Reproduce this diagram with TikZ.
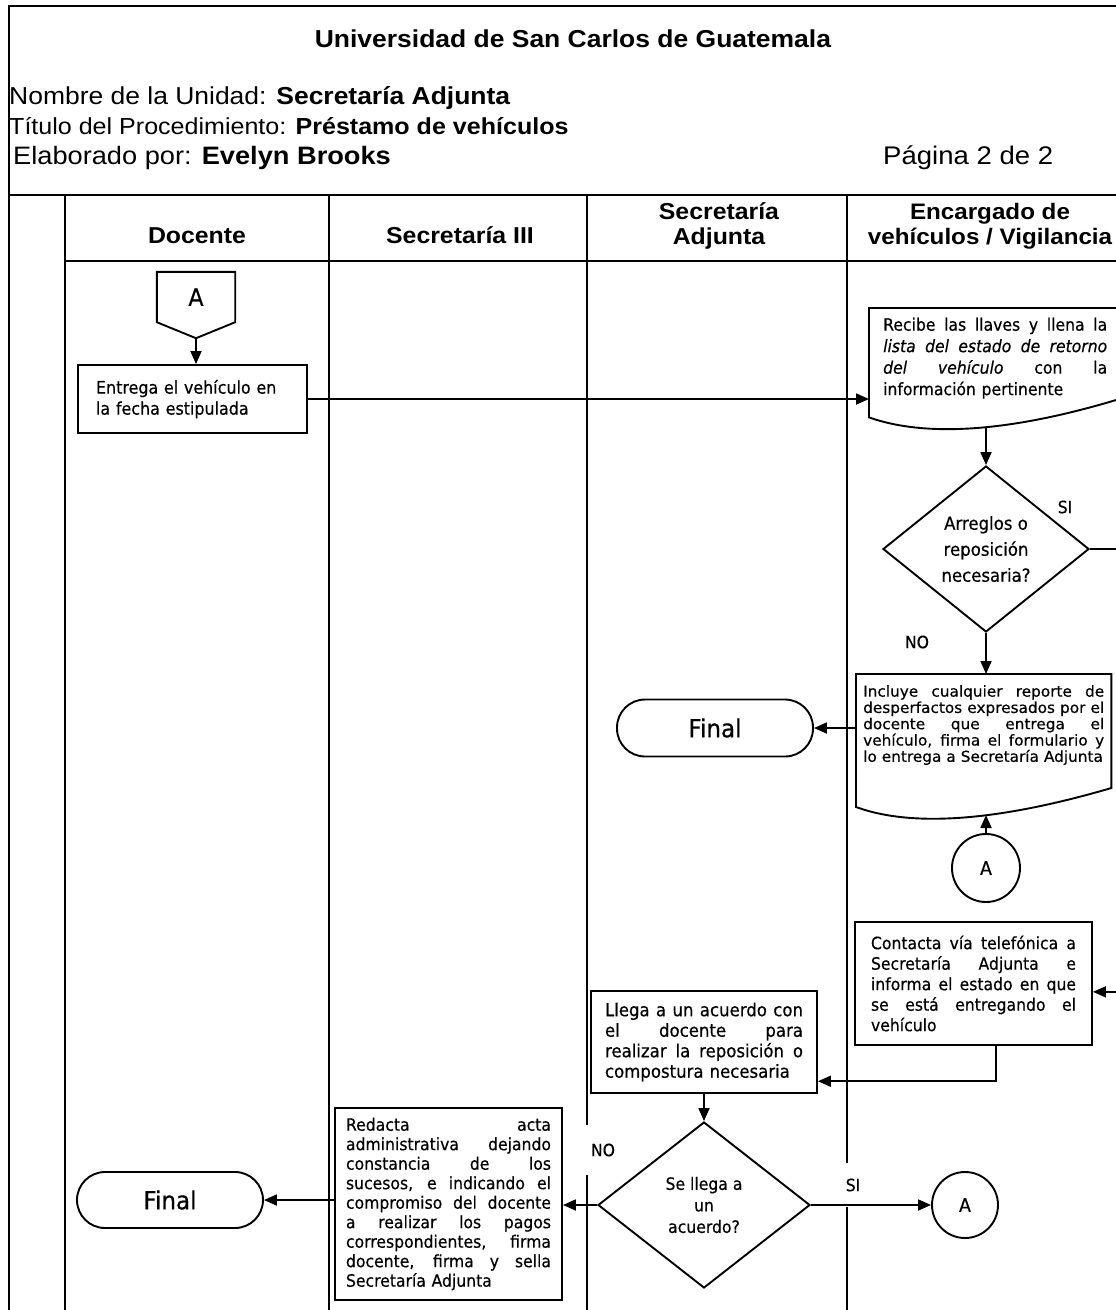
\documentclass[tikz,border=0pt]{standalone}
\usepackage{fontspec}
\usetikzlibrary{arrows.meta,shapes.geometric,calc}
\newfontfamily\hdrfont[FakeStretch=1.08]{Liberation Sans}
\newfontfamily\bodyfont[FakeStretch=0.92,FakeBold=0.5]{DejaVu Sans}
\newfontfamily\widebodyfont[FakeStretch=1.02,FakeBold=0.5]{DejaVu Sans}
% one fully justified line of a box text
\newcommand\jl[1]{{\spaceskip=0pt\xspaceskip=0pt\makebox[\hsize][s]{#1}}}

\begin{document}
\begin{tikzpicture}[x=1pt,y=-1pt,
  frame/.style={line width=2.6pt},
  laneline/.style={line width=2pt},
  shapeline/.style={line width=1.9pt},
  flow/.style={line width=1.8pt,-{Triangle[length=13pt,width=11pt]}},
  hdr/.style={font=\hdrfont\fontsize{24.5}{28}\selectfont, inner sep=0pt},
  lanehdr/.style={font=\hdrfont\bfseries\fontsize{23}{25}\selectfont, inner sep=0pt, align=center},
  body/.style={font=\bodyfont\fontsize{17}{20.5}\selectfont},
  procbox/.style={draw, shapeline, fill=white, align=left, inner ysep=0pt},
  doctext/.style={align=left, anchor=north west},
  decision/.style={draw, shapeline, diamond, inner sep=0pt, align=center},
  terminal/.style={draw, shapeline, rectangle, rounded corners=28pt,
    font=\bodyfont\fontsize{25}{25}\selectfont},
  conn/.style={draw, shapeline, circle, inner sep=0pt,
    font=\bodyfont\fontsize{19}{19}\selectfont},
  lbl/.style={inner sep=0pt, font=\bodyfont\fontsize{17}{17}\selectfont},
  gaplbl/.style={lbl, fill=white}
]
\useasboundingbox (0,0) rectangle (1116,1310);
\clip (0,0) rectangle (1116,1310);
\fill[white] (0,0) rectangle (1116,1310);

% page frame, heading rule and swimlanes
\draw[frame] (9,1320) -- (9,6) -- (1125,6);
\draw[line width=1.8pt] (9,195) -- (1125,195);
\draw[frame] (65,261) -- (1125,261);
\foreach \lx in {65,329,587,847}
  \draw[laneline] (\lx,195) -- (\lx,1320);

% heading
\node[hdr, anchor=base] (titulo) at (573,47) {\textbf{Universidad de San Carlos de Guatemala}};
\node[hdr, anchor=base west] (unidad) at (9,104) {Nombre de la Unidad: \textbf{Secretaría Adjunta}};
\node[hdr, anchor=base west, font=\hdrfont\fontsize{23.2}{28}\selectfont]
  (proc) at (9,134) {Título del Procedimiento: \textbf{Préstamo de vehículos}};
\node[hdr, anchor=base west, font=\hdrfont\fontsize{25.2}{28}\selectfont]
  (autor) at (13,164) {Elaborado por: \textbf{Evelyn Brooks}};
\node[hdr, anchor=base west, font=\hdrfont\fontsize{25.5}{28}\selectfont]
  (pagina) at (883,164) {Página 2 de 2};

% lane titles
\node[lanehdr, anchor=base] (hDoc) at (197,243) {Docente};
\node[lanehdr, anchor=base] (hSec) at (460,243) {Secretaría III};
\node[lanehdr] (hAdj) at (719,226) {Secretaría\\Adjunta};
\node[lanehdr, font=\hdrfont\bfseries\fontsize{22.4}{25}\selectfont]
  (hEnc) at (990,226) {Encargado de\\vehículos / Vigilancia};

% off-page connector A
\node[minimum width=78, minimum height=50, inner sep=0pt,
  font=\bodyfont\fontsize{24}{24}\selectfont] (offA) at (196,297) {A};
\coordinate (offAtip) at ($(offA.south)+(0,16)$);
\draw[shapeline] (offA.north west) -- (offA.north east) -- (offA.south east)
  -- (offAtip) -- (offA.south west) -- cycle;

% Docente
\node[procbox, font=\bodyfont\fontsize{17.3}{21}\selectfont,
  minimum width=229, minimum height=68, text width=193, inner xsep=18]
  (entrega) at (192.5,399) {Entrega el vehículo en\\la fecha estipulada};

% Encargado: document with wavy bottom
\node[doctext, body, font=\bodyfont\fontsize{17}{21.5}\selectfont,
  text width=224, inner xsep=14, inner ysep=0pt, minimum height=100] (recibe) at (869,308)
  {\jl{Recibe las llaves y llena la}\\
   \jl{\textit{lista del estado de retorno}}\\
   \jl{\textit{del vehículo} con la}\\
   información pertinente};
\draw[shapeline] (recibe.north west) -- (recibe.north east)
  -- ($(recibe.south east)+(0,-10)$)
  .. controls ($(recibe.south west)+(131,27)$) and ($(recibe.south west)+(51,27)$)
  .. ($(recibe.south west)+(0,9)$) -- cycle;
\coordinate (recibeOut) at ($(recibe.south west)+(117,19)$);

\node[decision, minimum width=206, minimum height=166, aspect=1.24,
  font=\bodyfont\fontsize{18}{26}\selectfont]
  (diamond1) at (986,549) {Arreglos o\\reposición\\necesaria?};
\node[lbl] (si1) at (1065,507) {SI};
\node[lbl] (no1) at (917,642) {NO};

\node[doctext, font=\widebodyfont\fontsize{15}{16.3}\selectfont,
  text width=241, inner xsep=7, inner ysep=11pt] (incluye) at (856,674)
  {\jl{Incluye cualquier reporte de}\\
   \jl{desperfactos expresados por el}\\
   \jl{docente que entrega el}\\
   \jl{vehículo, firma el formulario y}\\
   lo entrega a Secretaría Adjunta};
\coordinate (incluyeBL) at ($(incluye.north west)+(0,133)$);
\coordinate (incluyeBR) at ($(incluye.north east)+(0,114)$);
\draw[shapeline] (incluye.north west) -- (incluye.north east) -- (incluyeBR)
  .. controls ($(incluyeBL)+(129,18)$) and ($(incluyeBL)+(49,18)$)
  .. (incluyeBL) -- cycle;
\coordinate (incluyeIn) at ($(incluyeBL)+(130,8)$);

\node[terminal, minimum width=196, minimum height=57] (final1) at (715,728) {Final};
\node[conn, minimum size=68] (circA1) at (986,868) {A};

\node[procbox, body, text width=205, inner xsep=16, minimum width=237,
  minimum height=123] (contacta) at (973.5,983.5)
  {\jl{Contacta vía telefónica a}\\
   \jl{Secretaría Adjunta e}\\
   \jl{informa el estado en que}\\
   \jl{se está entregando el}\\
   vehículo};

% Secretaría Adjunta
\node[procbox, font=\bodyfont\fontsize{18}{20.5}\selectfont, text width=198,
  inner xsep=14, minimum width=226, minimum height=102] (llega) at (704,1042)
  {\jl{Llega a un acuerdo con}\\
   \jl{el docente para}\\
   \jl{realizar la reposición o}\\
   compostura necesaria};

\node[gaplbl, minimum width=36, minimum height=50] (no2) at (603,1150) {NO};
\node[gaplbl, minimum width=30, minimum height=44] (si2) at (853,1185) {SI};

\node[decision, minimum width=212, minimum height=166, aspect=1.277,
  font=\bodyfont\fontsize{17}{21.5}\selectfont]
  (diamond2) at (704,1205) {Se llega a\\un\\acuerdo?};

% Secretaría III
\node[procbox, font=\bodyfont\fontsize{17}{19.5}\selectfont, text width=205,
  inner xsep=11, minimum width=227, minimum height=192] (redacta) at (448.5,1204)
  {\jl{Redacta acta}\\
   \jl{administrativa dejando}\\
   \jl{constancia de los}\\
   \jl{sucesos, e indicando el}\\
   \jl{compromiso del docente}\\
   \jl{a realizar los pagos}\\
   \jl{correspondientes, firma}\\
   \jl{docente, firma y sella}\\
   Secretaría Adjunta};

\node[terminal, minimum width=186, minimum height=56] (final2) at (170,1200) {Final};
\node[conn, minimum size=66] (circA2) at (965,1205) {A};

% connectors
\draw[flow] (offAtip) -- (offAtip |- entrega.north);
\draw[flow] (entrega.east) -- (entrega.east -| recibe.west);
\draw[flow] (recibeOut) -- (diamond1.north);
\draw[flow] (diamond1.east) -- ++(45,0) |- (contacta.356);
\draw[flow] (diamond1.south) -- (diamond1.south |- incluye.north);
\draw[flow] (final1.east -| incluye.west) -- (final1.east);
\draw[flow] (circA1.north) -- (incluyeIn);
\draw[flow] (contacta.290) |- (llega.341);
\draw[flow] (llega.south) -- (diamond2.north);
\draw[flow] (diamond2.west) -- (diamond2.west -| redacta.east);
\draw[flow] (final2.east -| redacta.west) -- (final2.east);
\draw[flow] (diamond2.east) -- (circA2.west);
\end{tikzpicture}
\end{document}
